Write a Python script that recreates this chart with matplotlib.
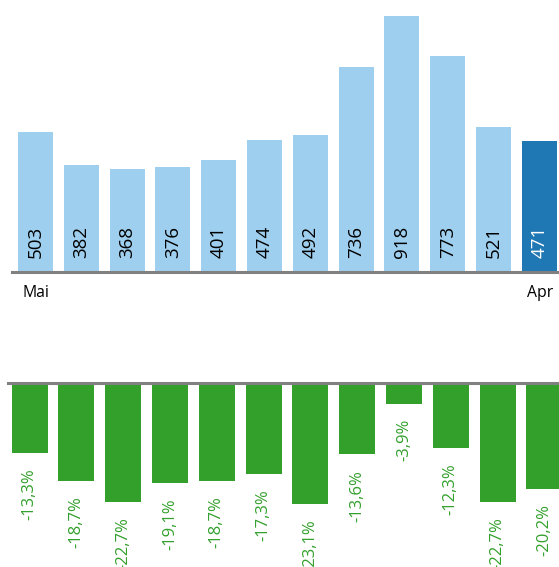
import numpy as np
import matplotlib
matplotlib.use("Agg")
import matplotlib.pyplot as plt

plt.rcParams['font.family'] = ['Open Sans', 'DejaVu Sans']

# data
values = [503, 382, 368, 376, 401, 474, 492, 736, 918, 773, 521, 471]
changes = [-13.3, -18.7, -22.7, -19.1, -18.7, -17.3, -23.1, -13.6, -3.9, -12.3, -22.7, -20.2]
first_label = "Mai"
last_label = "Apr"

light_blue = '#9fcfee'
dark_blue = '#1f78b4'
green = '#33a02c'
grey = '#808080'

W, H = 559, 567
fig = plt.figure(figsize=(W / 100, H / 100), dpi=100)

def px_axes(left, top, right, bottom):
    return fig.add_axes([left / W, 1 - bottom / H, (right - left) / W, (bottom - top) / H])

# top chart
ax1 = px_axes(12, 0, 559, 272)
x = np.arange(len(values))
colors = [light_blue] * (len(values) - 1) + [dark_blue]
ax1.bar(x, values, width=0.765, color=colors)
ax1.set_xlim(-0.513, 11.43)
ax1.set_ylim(0, 975)
for i, v in enumerate(values):
    c = 'white' if i == len(values) - 1 else 'black'
    ax1.annotate(str(v), (i, 0), xytext=(0, 10), textcoords='offset points',
                 rotation=90, ha='center', va='bottom', fontsize=13.5, color=c)
ax1.axhline(0, color=grey, lw=2.2, clip_on=False)
ax1.axis('off')

fig.text(22 / W, 1 - 293 / H, first_label, ha='left', va='center', fontsize=11.3)
fig.text(553 / W, 1 - 293 / H, last_label, ha='right', va='center', fontsize=11.3)

# bottom chart
ax2 = px_axes(8, 383, 559, 567)
x2 = np.arange(len(changes))
ax2.bar(x2, changes, width=0.77, color=green)
ax2.set_xlim(-0.46, 11.31)
ax2.set_ylim(-35, 0)
for i, v in enumerate(changes):
    lbl = ('%.1f%%' % v).replace('.', ',')
    ax2.annotate(lbl, (i, v), xytext=(0, -11), textcoords='offset points',
                 rotation=90, ha='center', va='top', fontsize=12, color=green,
                 annotation_clip=False)
ax2.axhline(0, color=grey, lw=2.2, clip_on=False)
ax2.axis('off')

fig.savefig('out.png', dpi=100)
